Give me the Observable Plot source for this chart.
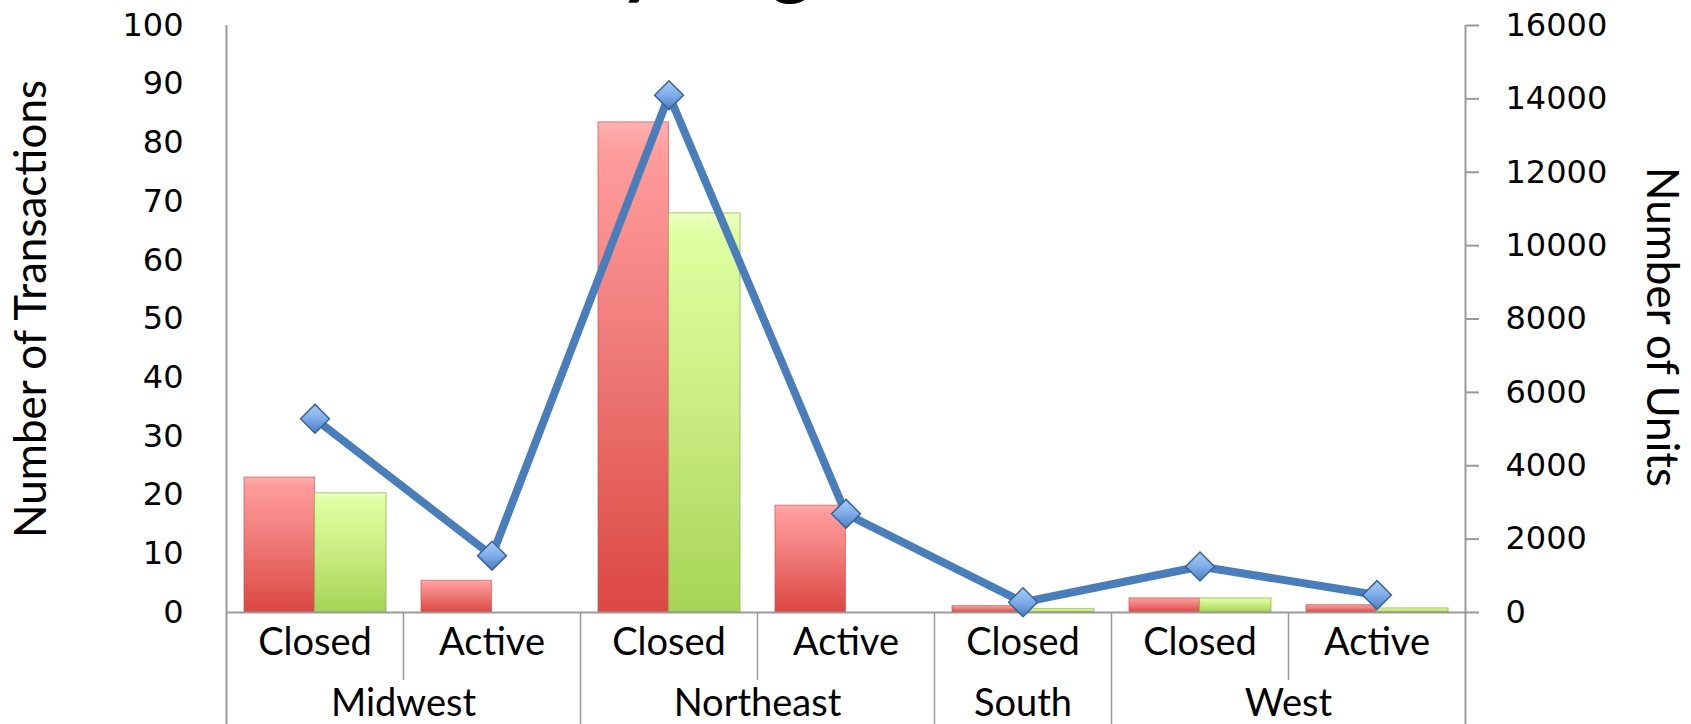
<!DOCTYPE html>
<html>
<head>
<meta charset="utf-8">
<script src="https://cdn.jsdelivr.net/npm/d3@7"></script>
<script src="https://cdn.jsdelivr.net/npm/@observablehq/plot@0.6"></script>
<style>
  html, body { margin: 0; padding: 0; background: #fff; overflow: hidden; }
</style>
</head>
<body>
<div id="chart"></div>
<script>
// ---- data ----
const regions    = ["Midwest", "Midwest", "Northeast", "Northeast", "South", "West", "West"];
const categories = ["Closed", "Active", "Closed", "Active", "Closed", "Closed", "Active"];
const transactions = [23, 5.4, 83.5, 18.2, 1.1, 2.4, 1.25];   // red bars (left axis)
const secondSeries = [20.3, 0, 68, 0, 0.6, 2.4, 0.7];         // green bars (left axis)
const units        = [5280, 1550, 14100, 2690, 280, 1254, 475]; // line (right axis)
const leftTicks  = [0, 10, 20, 30, 40, 50, 60, 70, 80, 90, 100];
const rightTicks = [0, 2000, 4000, 6000, 8000, 10000, 12000, 14000, 16000];
const leftMax = 100, rightMax = 16000;
const title = "Transactions by Region";

// ---- build table ----
const rows = regions.map((r, i) => ({
  key: r + "|" + categories[i] + "|" + i,
  region: r, category: categories[i],
  red: transactions[i], green: secondSeries[i], units: units[i]
}));
const keys = rows.map(d => d.key);
const ratio = rightMax / leftMax;

const W = 1691, H = 724, ML = 226, MR = 226, MT = 25, MB = 112;
const step = (W - ML - MR) / keys.length;
const gray = "#9a9a9a";
const labelFont = "Lato, 'Open Sans', sans-serif";
const tickFont = "'DejaVu Sans', Verdana, sans-serif";

// region groups
const groups = [];
rows.forEach(d => {
  const g = groups[groups.length - 1];
  if (g && g.region === d.region) g.n++;
  else groups.push({region: d.region, first: d.key, n: 1});
});
// boundaries between regions (long) and within regions (short)
const longBounds = [], shortBounds = [];
rows.forEach((d, i) => {
  if (i === 0) return;
  (rows[i - 1].region === d.region ? shortBounds : longBounds).push(d.key);
});

const chart = Plot.plot({
  width: W, height: H,
  marginLeft: ML, marginRight: MR, marginTop: MT, marginBottom: MB,
  style: {fontFamily: tickFont, fontSize: "32px", color: "#000", background: "#fff", overflow: "visible"},
  x: {type: "band", domain: keys, padding: 0, axis: null},
  y: {domain: [0, leftMax], axis: null},
  marks: [
    // title (only its descenders fall inside the picture, as in the reference)
    Plot.text([title], {frameAnchor: "top-left", textAnchor: "start", dx: -118, dy: -37, text: d => d,
                        fontSize: 80, fontWeight: "bold", fontFamily: labelFont, fill: "#000", lineAnchor: "bottom"}),
    // bars
    Plot.barY(rows, {x: "key", y: "red", fill: "url(#gradRed)", stroke: "#b9504c", strokeOpacity: 0.55,
                     strokeWidth: 1.2, insetLeft: 18, insetRight: step / 2}),
    Plot.barY(rows.filter(d => d.green > 0), {x: "key", y: "green", fill: "url(#gradGreen)", stroke: "#8aae4a",
                     strokeOpacity: 0.6, strokeWidth: 1.2, insetLeft: step / 2, insetRight: 17}),
    // baseline
    Plot.ruleY([0], {stroke: gray, strokeWidth: 2}),
    // left and right axis lines, extending through category rows
    Plot.ruleX([keys[0]], {dx: -step / 2, stroke: gray, strokeWidth: 2, insetBottom: -MB}),
    Plot.ruleX([keys[keys.length - 1]], {dx: step / 2, stroke: gray, strokeWidth: 2, insetBottom: -MB}),
    // separators
    Plot.ruleX(longBounds, {x: d => d, y1: 0, y2: 0, dx: -step / 2, stroke: gray, strokeWidth: 1.5, insetBottom: -MB}),
    Plot.ruleX(shortBounds, {x: d => d, y1: 0, y2: 0, dx: -step / 2, stroke: gray, strokeWidth: 1.5, insetBottom: -68}),
    // category labels
    Plot.text(rows, {x: "key", text: "category", frameAnchor: "bottom", dy: 42, fontSize: 38,
                     fontFamily: labelFont, fill: "#000"}),
    // region labels
    ...groups.map(g => Plot.text([g.region], {x: () => g.first, text: d => d, frameAnchor: "bottom",
                     dx: (g.n - 1) * step / 2, dy: 103, fontSize: 38, fontFamily: labelFont, fill: "#000"})),
    // left axis
    Plot.axisY(leftTicks, {anchor: "left", tickSize: 0, tickPadding: 43, fontSize: 32, fontFamily: tickFont,
                           fill: "#000", label: null}),
    // right axis (units scaled onto the same y)
    Plot.axisY(rightTicks.map(v => v / ratio), {anchor: "right", tickSize: 13, tickPadding: 27, stroke: gray,
                           strokeWidth: 2, fontSize: 32, fontFamily: tickFont, fill: "#000", label: null,
                           tickFormat: d => String(Math.round(d * ratio))}),
    // axis titles
    Plot.text(["Number of Transactions"], {frameAnchor: "left", textAnchor: "middle", dx: -195, dy: -10,
                           rotate: -90, text: d => d, fontSize: 44, fontFamily: labelFont, fill: "#000"}),
    Plot.text(["Number of Units"], {frameAnchor: "right", textAnchor: "middle", dx: 196, dy: 8, rotate: 90,
                           text: d => d, fontSize: 44, fontFamily: labelFont, fill: "#000"}),
    // units line
    Plot.line(rows, {x: "key", y: d => d.units / ratio, stroke: "#4a7ebb", strokeWidth: 8, strokeLinejoin: "round"}),
    Plot.dot(rows, {x: "key", y: d => d.units / ratio, symbol: "diamond2", r: 13, fill: "url(#gradBlue)",
                    stroke: "#3a6494", strokeWidth: 1.5})
  ]
});

// gradients
const defs = d3.select(chart).insert("defs", ":first-child");
function grad(id, stops) {
  const g = defs.append("linearGradient").attr("id", id).attr("x1", 0).attr("y1", 0).attr("x2", 0).attr("y2", 1);
  stops.forEach(([o, c]) => g.append("stop").attr("offset", o).attr("stop-color", c));
}
grad("gradRed", [[0, "#ffb0b0"], [0.06, "#ff9c9c"], [0.45, "#f07c7a"], [1, "#db4742"]]);
grad("gradGreen", [[0, "#eeffc0"], [0.06, "#ddffa0"], [0.45, "#cdee86"], [1, "#a6d455"]]);
grad("gradBlue", [[0, "#a9cdf5"], [0.5, "#7eacea"], [1, "#4a7dc0"]]);

document.getElementById("chart").appendChild(chart);
</script>
</body>
</html>
